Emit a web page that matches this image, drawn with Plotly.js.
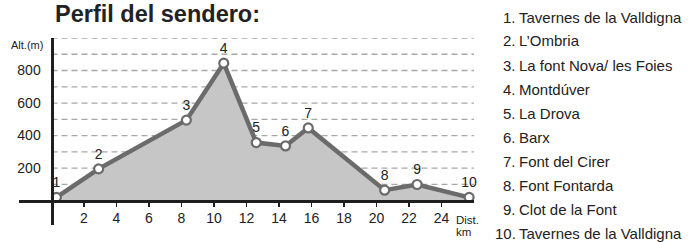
<!DOCTYPE html>
<html><head><meta charset="utf-8">
<script src="https://cdn.plot.ly/plotly-3.0.1.min.js"></script>
<style>html,body{margin:0;padding:0;background:#fff}</style>
</head><body><div id="chart" style="width:693px;height:242px"></div>
<script>
const distKm = [0.3, 2.9, 8.3, 10.6, 12.6, 14.4, 15.8, 20.5, 22.5, 25.7];
const altM = [20, 195, 495, 845, 357, 336, 447, 64, 99, 20];
const pointLabels = ['1','2','3','4','5','6','7','8','9','10'];
const placeNames = ['Tavernes de la Valldigna', 'L\u2019Ombria', 'La font Nova/ les Foies', 'Montd\u00faver', 'La Drova', 'Barx', 'Font del Cirer', 'Font Fontarda', 'Clot de la Font', 'Tavernes de la Valldigna'];
const xTickVals = [2,4,6,8,10,12,14,16,18,20,22,24];
const yTickVals = [200,400,600,800];
const gridVals = [100,200,300,400,500,600,700,800,900,1000];
const xTitleLines = ['Dist.', 'km'];

const NARROW = '"Liberation Sans Narrow", "Arial Narrow", "Liberation Sans", Arial, sans-serif';
const REG = '"Liberation Sans", Arial, sans-serif';
const W = 693, H = 242, ML = 19, MR = 219, MT = 38, MB = 17;
const xRange = [-2, 26], yRange = [-150, 1000];
const pw = W - ML - MR, ph = H - MT - MB;
const px2paperX = p => (p - ML) / pw;
const py2paperY = p => (H - MB - p) / ph;

const trace = {
  x: distKm, y: altM, text: pointLabels,
  type: 'scatter', mode: 'lines+markers+text',
  fill: 'tozeroy', fillcolor: '#c6c6c6',
  line: {color: '#6b6b6b', width: 4.5},
  marker: {size: 9, color: '#ffffff', line: {color: '#6b6b6b', width: 2.2}},
  textposition: 'top center',
  textfont: {family: NARROW, size: 14, color: '#222'},
  cliponaxis: false, hoverinfo: 'skip'
};

const shapes = gridVals.map(v => ({
  type: 'line', xref: 'x', yref: 'y', x0: 0, x1: 26, y0: v, y1: v,
  line: {color: '#a8a8a8', width: 1.3, dash: '6px,4px'}, layer: 'below'
}));

const annotations = [];
placeNames.forEach((name, i) => {
  const py = 17 + 24 * i;
  annotations.push({
    xref: 'paper', yref: 'paper', x: px2paperX(518), y: py2paperY(py),
    xanchor: 'right', yanchor: 'middle', showarrow: false,
    text: pointLabels[i] + '.', font: {family: REG, size: 15, color: '#222'}
  });
  annotations.push({
    xref: 'paper', yref: 'paper', x: px2paperX(517), y: py2paperY(py),
    xanchor: 'left', yanchor: 'middle', showarrow: false,
    text: name, font: {family: REG, size: 15, color: '#222'}
  });
});
annotations.push({
  xref: 'paper', yref: 'paper', x: px2paperX(45), y: py2paperY(45),
  xanchor: 'right', yanchor: 'middle', showarrow: false,
  text: 'Alt.(m)', font: {family: NARROW, size: 11, color: '#222'}
});
xTitleLines.forEach((t, i) => {
  annotations.push({
    xref: 'paper', yref: 'paper', x: px2paperX(454), y: py2paperY(220 + 12 * i),
    xanchor: 'left', yanchor: 'middle', showarrow: false, align: 'left',
    text: t, font: {family: NARROW, size: 11.5, color: '#222'}
  });
});

const layout = {
  width: W, height: H,
  margin: {l: ML, r: MR, t: MT, b: MB},
  paper_bgcolor: '#ffffff', plot_bgcolor: 'rgba(0,0,0,0)',
  showlegend: false,
  title: {text: 'Perfil del sendero:', x: 55 / W, xanchor: 'left', xref: 'container',
          y: 1 - 14 / H, yanchor: 'middle', yref: 'container',
          font: {family: REG, size: 23.5, color: '#222', weight: 'bold'}},
  xaxis: {range: xRange, anchor: 'free', position: (0 - yRange[0]) / (yRange[1] - yRange[0]),
          showgrid: false, zeroline: false, showline: true, linecolor: '#1e1e1e', linewidth: 3,
          ticks: 'outside', ticklen: 4, tickwidth: 1.5, tickcolor: '#1e1e1e',
          tickvals: xTickVals, ticktext: xTickVals.map(String),
          tickfont: {family: NARROW, size: 14, color: '#222'}, fixedrange: true},
  yaxis: {range: yRange, anchor: 'free', position: (0 - xRange[0]) / (xRange[1] - xRange[0]),
          showgrid: false, zeroline: false, showline: true, linecolor: '#1e1e1e', linewidth: 3,
          ticks: '', tickvals: yTickVals, ticktext: yTickVals.map(String),
          ticklabelstandoff: 7,
          tickfont: {family: NARROW, size: 14, color: '#222'}, fixedrange: true},
  shapes: shapes, annotations: annotations
};

Plotly.newPlot('chart', [trace], layout, {displayModeBar: false, staticPlot: true});
</script></body></html>
